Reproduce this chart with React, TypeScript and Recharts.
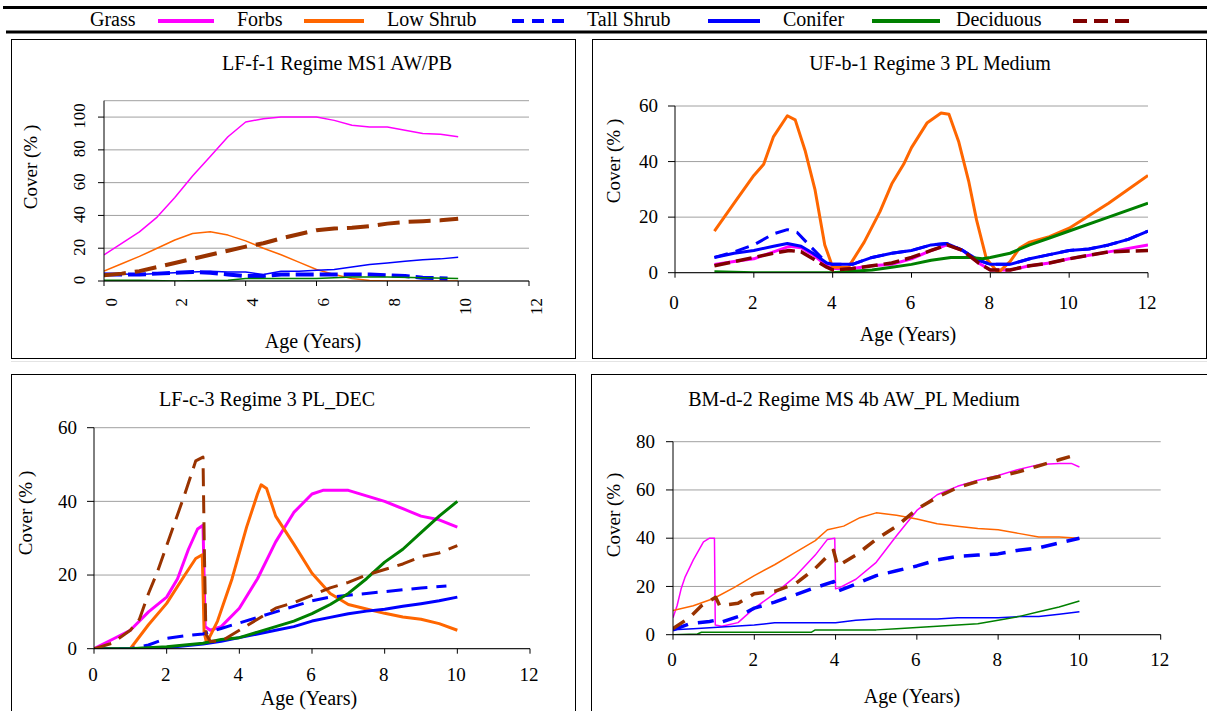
import { CartesianGrid, Line, LineChart, XAxis, YAxis } from "recharts";

type Pt = [number, number];

const FONT = '"Liberation Serif", "Times New Roman", serif';

// series names as they appear in the legend strip (label, then swatch)
const seriesNames = ["Grass", "Forbs", "Low Shrub", "Tall Shrub", "Conifer", "Deciduous"];
const xTicks = [0, 2, 4, 6, 8, 10, 12];

// LF-f-1 Regime MS1 AW/PB
const lffGrass: Pt[] = [[0, 16], [0.5, 23], [1, 30], [1.5, 39], [2, 51], [2.5, 64], [3, 76], [3.5, 88], [4, 97], [4.5, 99], [5, 100], [6, 100], [6.5, 98], [7, 95], [7.5, 94], [8, 94], [8.5, 92], [9, 90], [9.5, 89.5], [10, 88]];
const lffForbs: Pt[] = [[0, 6], [0.5, 10.5], [1, 15], [1.5, 20], [2, 25], [2.5, 29], [3, 30], [3.5, 28], [4, 24.5], [4.5, 20], [5, 16], [5.5, 11.5], [6, 7], [6.5, 4], [7, 1.5], [7.5, 0.3], [8, 0], [9, 0], [10, 0]];
const lffLowShrub: Pt[] = [[0, 4], [0.5, 4], [1, 4], [1.5, 4.5], [2, 5], [2.5, 5.5], [3, 5], [3.5, 4], [4, 3], [4.5, 3], [5, 4], [6, 4], [7, 4], [7.5, 4], [8, 3.5], [8.5, 3], [9, 2], [9.7, 1.5]];
const lffTallShrub: Pt[] = [[0, 4.5], [0.5, 4.3], [1, 4], [1.5, 4.5], [2, 5], [2.5, 5.5], [3, 6], [3.5, 5.5], [4, 5.5], [4.5, 4], [5, 6], [5.5, 6], [6, 6.5], [6.5, 7], [7, 8.5], [7.5, 10], [8, 11], [8.5, 12], [9, 13], [9.5, 13.5], [10, 14.5]];
const lffConifer: Pt[] = [[0, 0.5], [1, 0.5], [2, 0], [3, 0.3], [3.5, 0.5], [4, 1.5], [5, 1.5], [6, 1.5], [6.5, 2], [7, 2.5], [8, 2.5], [9, 2], [10, 1.5]];
const lffDeciduous: Pt[] = [[0, 3.5], [0.5, 4.5], [1, 6], [1.5, 8.5], [2, 11], [2.5, 13.5], [3, 16], [3.5, 18.5], [4, 21], [4.5, 23], [5, 26], [5.5, 28.5], [6, 31], [6.5, 32], [7, 32.5], [7.5, 33.5], [8, 35], [8.5, 36], [9, 36.5], [9.5, 37], [10, 38]];

// UF-b-1 Regime 3 PL Medium
const ufGrass: Pt[] = [[1, 3], [1.5, 4], [2, 5], [2.5, 7.5], [2.9, 9.5], [3.2, 9], [3.5, 6.5], [3.85, 2.5], [4, 1.5], [4.5, 1.5], [5, 2.5], [5.5, 3], [6, 5], [6.5, 8], [6.9, 10], [7.3, 8], [7.7, 3.5], [8, 1], [8.5, 1], [9, 2.5], [9.5, 3.5], [10, 5], [11, 7.5], [12, 10]];
const ufForbs: Pt[] = [[1, 15], [1.5, 25], [2, 35], [2.25, 39], [2.5, 49], [2.85, 56.5], [3.05, 55], [3.3, 44], [3.55, 30], [3.8, 10], [4, 2], [4.4, 2], [4.8, 11], [5.2, 22], [5.5, 32], [5.8, 39], [6, 45], [6.4, 54], [6.75, 57.5], [6.95, 57], [7.2, 47], [7.45, 33], [7.65, 19], [7.9, 5], [8.2, 0], [8.5, 4], [8.75, 9], [9, 11], [9.5, 13], [10, 16], [11, 25], [12, 35]];
const ufLowShrub: Pt[] = [[1, 5.5], [1.5, 7.5], [2, 10], [2.5, 14], [2.85, 15.5], [3.1, 14.5], [3.4, 10], [3.85, 3.5], [4, 3], [4.5, 3], [5, 5.5], [5.5, 7], [6, 8], [6.5, 10], [6.9, 10.5], [7.3, 8], [7.7, 4.5], [8, 3], [8.5, 3], [9, 5], [9.5, 6.5], [10, 8], [10.5, 8.5], [11, 10], [11.5, 12], [12, 15]];
const ufTallShrub: Pt[] = [[1, 5.5], [1.5, 7], [2, 8], [2.5, 9.5], [2.85, 10.5], [3.2, 9.5], [3.5, 7], [3.85, 3.5], [4, 3], [4.5, 3], [5, 5.5], [5.5, 7], [6, 8], [6.5, 10], [6.9, 10.5], [7.3, 8], [7.7, 4.5], [8, 3], [8.5, 3], [9, 5], [9.5, 6.5], [10, 8], [10.5, 8.5], [11, 10], [11.5, 12], [12, 15]];
const ufConifer: Pt[] = [[1, 0.3], [2, 0], [3, 0], [4, 0], [4.5, 0.5], [5, 1], [5.5, 2], [6, 3], [6.5, 4.5], [7, 5.5], [7.5, 5.5], [7.8, 5], [8, 5.5], [8.5, 7], [9, 10], [9.5, 12.5], [10, 15], [11, 20], [12, 25]];
const ufDeciduous: Pt[] = [[1, 2.5], [1.5, 4], [2, 5.5], [2.5, 7], [2.9, 8], [3.2, 7.5], [3.5, 5], [3.85, 2], [4, 1], [4.5, 1.5], [5, 2.5], [5.5, 3.5], [6, 5.5], [6.5, 8], [6.9, 10], [7.3, 8], [7.7, 3.5], [8, 1], [8.5, 1], [9, 2.5], [9.5, 3.5], [10, 5], [11, 7.5], [12, 8]];

// LF-c-3 Regime 3 PL_DEC
const lfcGrass: Pt[] = [[0, 0], [0.5, 2.5], [1, 5], [1.5, 10], [2, 14], [2.3, 19], [2.6, 27], [2.85, 32.5], [3, 33.5], [3.03, 20], [3.06, 6], [3.2, 5], [3.5, 6], [4, 11], [4.5, 19], [5, 29], [5.5, 37], [6, 42], [6.3, 43], [7, 43], [7.5, 41.5], [8, 40], [8.5, 38], [9, 36], [9.5, 35], [10, 33]];
const lfcForbs: Pt[] = [[0, 0], [0.5, 0], [1, 0], [1.5, 6.5], [2, 12.3], [2.5, 20], [2.8, 24.5], [2.98, 25.5], [3.03, 4.5], [3.1, 1.5], [3.4, 7.5], [3.8, 19], [4.2, 33], [4.5, 42], [4.6, 44.5], [4.75, 43.5], [5, 36], [5.5, 28.4], [6, 20.5], [6.5, 15], [7, 12], [7.5, 10.8], [8, 9.6], [8.5, 8.6], [9, 8], [9.5, 6.8], [10, 5]];
const lfcLowShrub: Pt[] = [[0, 0], [1, 0], [1.5, 1], [2, 2.8], [2.5, 3.5], [3, 4], [3.5, 5.5], [4, 7], [4.5, 8.5], [5, 10], [5.5, 11.5], [6, 13], [6.5, 14], [7, 14.5], [7.5, 15], [8, 15.5], [8.5, 16], [9, 16.5], [9.7, 17]];
const lfcTallShrub: Pt[] = [[0, 0], [1, 0], [2, 0.3], [3, 1.3], [3.5, 2], [4, 3], [4.5, 4], [5, 5], [5.5, 6], [6, 7.5], [6.5, 8.5], [7, 9.5], [7.5, 10.2], [8, 10.7], [8.5, 11.5], [9, 12.2], [9.5, 13], [10, 14]];
const lfcConifer: Pt[] = [[0, 0], [1, 0], [2, 0.5], [2.5, 1], [3, 1.5], [3.5, 2.5], [4, 3], [4.5, 4.5], [5, 6], [5.5, 7.5], [6, 9.5], [6.5, 12], [7, 15], [7.5, 19], [8, 23.5], [8.5, 27], [9, 31.5], [9.5, 36], [10, 40]];
const lfcDeciduous: Pt[] = [[0, 0], [0.5, 1.5], [1, 5], [1.25, 8], [1.5, 15], [1.75, 21], [2, 28], [2.25, 35], [2.5, 42], [2.8, 51], [3, 52], [3.04, 25], [3.08, 4], [3.2, 2], [3.5, 2], [4, 5], [4.5, 8], [5, 11], [5.5, 12.5], [6, 14.5], [6.5, 16.5], [7, 18], [7.5, 20], [8, 21.5], [8.5, 23], [9, 25], [9.5, 26], [10, 28]];

// BM-d-2 Regime MS 4b AW_PL Medium
const bmGrass: Pt[] = [[0, 7], [0.1, 12], [0.2, 19], [0.3, 24], [0.5, 31], [0.75, 38.5], [0.9, 40], [1.02, 40], [1.04, 4], [1.2, 3.5], [1.6, 5], [2, 11], [2.5, 17], [3, 24], [3.5, 33], [3.8, 39.5], [3.98, 40], [4, 19], [4.1, 19.5], [4.5, 23], [5, 30], [5.5, 41], [6, 51.5], [6.5, 58], [7, 61.5], [7.5, 64], [8, 66], [8.5, 68.5], [9, 70.5], [9.5, 71], [9.8, 71], [10, 69.5]];
const bmForbs: Pt[] = [[0, 10], [0.5, 12], [1, 15], [1.5, 19.5], [2, 24.5], [2.5, 29], [3, 34], [3.5, 39], [3.8, 43.5], [4.2, 45], [4.6, 48.5], [5, 50.5], [5.5, 49.5], [6, 48], [6.5, 46], [7, 45], [7.5, 44], [8, 43.5], [8.5, 42], [9, 40.5], [9.5, 40.5], [10, 40]];
const bmLowShrub: Pt[] = [[0, 2], [0.4, 4.5], [0.9, 5.5], [1.05, 6], [1.15, 5], [1.6, 7.5], [2, 11], [2.5, 13.5], [3, 16.5], [3.5, 19.5], [3.95, 22], [4.05, 18], [4.5, 21], [5, 24.5], [5.5, 26.5], [6, 28.5], [6.5, 31], [7, 32.5], [7.5, 33], [8, 33.5], [8.5, 35], [9, 36], [9.5, 38], [10, 40]];
const bmTallShrub: Pt[] = [[0, 2], [0.5, 2.5], [1, 3], [1.5, 3.5], [2, 4], [2.5, 5], [3, 5], [3.5, 5], [4, 5], [4.5, 6], [5, 6.5], [5.5, 6.5], [6, 6.5], [6.5, 6.5], [7, 7], [7.5, 7], [8, 7], [8.5, 7.5], [9, 7.5], [9.5, 8.5], [10, 9.5]];
const bmConifer: Pt[] = [[0, 0], [0.6, 0.3], [0.7, 1], [1, 1], [2, 1], [3, 1], [3.4, 1], [3.5, 2], [4, 2], [5, 2], [5.5, 2.5], [6, 3], [6.5, 3.5], [7, 4], [7.5, 4.5], [8, 6], [8.5, 7.5], [9, 9.5], [9.5, 11.5], [10, 14]];
const bmDeciduous: Pt[] = [[0, 2.5], [0.4, 7], [0.7, 12], [1, 15], [1.05, 15.5], [1.15, 12], [1.6, 13], [2, 17], [2.5, 18], [3, 21], [3.5, 27.5], [3.95, 35], [4.05, 28.5], [4.5, 33], [5, 39.5], [5.5, 45], [6, 52], [6.5, 57], [7, 61], [7.5, 63.5], [8, 65.5], [8.5, 67.5], [9, 70], [9.5, 72.5], [10, 75]];

const MAGENTA = "#ff00ff";
const ORANGE = "#ff6600";
const BLUE = "#0000ff";
const GREEN = "#008000";
const BROWN = "#993300";
const MAROON = "#800000";

type Series = { name: string; pts: Pt[]; color: string; width: number; dash?: string };

type Panel = {
  title: string;
  box: { x: number; y: number; w: number; h: number };
  plot: { l: number; r: number; t: number; b: number };
  yMax: number;
  yTicks: number[];
  series: Series[];
  titleX: number;
  titleBase: number;
  xTitleX: number;
  xTitleBase: number;
  yTitle: { x: number; y: number };
  rotated?: boolean;
  yLabelGap: number;
  xLabelMid: number;
};

function mk(pts: Pt[][], colors: string[], widths: number[], dashes: (string | undefined)[]): Series[] {
  return seriesNames.map((name, i) => ({ name, pts: pts[i], color: colors[i], width: widths[i], dash: dashes[i] }));
}

const panels: Panel[] = [
  {
    title: "LF-f-1 Regime MS1 AW/PB",
    box: { x: 11, y: 39, w: 565, h: 320 },
    plot: { l: 104, r: 529, t: 100.7, b: 281 },
    yMax: 110,
    yTicks: [0, 20, 40, 60, 80, 100],
    series: mk(
      [lffGrass, lffForbs, lffLowShrub, lffTallShrub, lffConifer, lffDeciduous],
      [MAGENTA, ORANGE, BLUE, BLUE, GREEN, BROWN],
      [1.5, 1.5, 4, 1.5, 1.5, 4],
      [undefined, undefined, "18 6", undefined, undefined, "22 9"]
    ),
    titleX: 337,
    titleBase: 70,
    xTitleX: 313,
    xTitleBase: 348,
    yTitle: { x: 30, y: 167 },
    rotated: true,
    yLabelGap: 25,
    xLabelMid: 17,
  },
  {
    title: "UF-b-1 Regime 3 PL Medium",
    box: { x: 592, y: 39, w: 615, h: 320 },
    plot: { l: 675, r: 1148, t: 106, b: 272.7 },
    yMax: 60,
    yTicks: [0, 20, 40, 60],
    series: mk(
      [ufGrass, ufForbs, ufLowShrub, ufTallShrub, ufConifer, ufDeciduous],
      [MAGENTA, ORANGE, BLUE, BLUE, GREEN, MAROON],
      [3, 3, 3, 3, 3, 3.5],
      [undefined, undefined, "14 8", undefined, undefined, "16 6"]
    ),
    titleX: 930,
    titleBase: 70,
    xTitleX: 908,
    xTitleBase: 341,
    yTitle: { x: 613, y: 161 },
    yLabelGap: 17,
    xLabelMid: 30,
  },
  {
    title: "LF-c-3 Regime 3 PL_DEC",
    box: { x: 11, y: 374, w: 565, h: 345 },
    plot: { l: 94, r: 530, t: 427.7, b: 648.7 },
    yMax: 60,
    yTicks: [0, 20, 40, 60],
    series: mk(
      [lfcGrass, lfcForbs, lfcLowShrub, lfcTallShrub, lfcConifer, lfcDeciduous],
      [MAGENTA, ORANGE, BLUE, BLUE, GREEN, BROWN],
      [3, 3, 3, 3, 3, 3],
      [undefined, undefined, "16 9", undefined, undefined, "18 9"]
    ),
    titleX: 267,
    titleBase: 406,
    xTitleX: 309,
    xTitleBase: 705,
    yTitle: { x: 25, y: 513 },
    yLabelGap: 17,
    xLabelMid: 26,
  },
  {
    title: "BM-d-2 Regime MS 4b AW_PL Medium",
    box: { x: 591, y: 374, w: 625, h: 345 },
    plot: { l: 673, r: 1160.7, t: 441.7, b: 634.7 },
    yMax: 80,
    yTicks: [0, 20, 40, 60, 80],
    series: mk(
      [bmGrass, bmForbs, bmLowShrub, bmTallShrub, bmConifer, bmDeciduous],
      [MAGENTA, ORANGE, BLUE, BLUE, GREEN, BROWN],
      [1.5, 1.5, 3.5, 1.5, 1.5, 3.5],
      [undefined, undefined, "16 10", undefined, undefined, "14 10"]
    ),
    titleX: 854,
    titleBase: 406,
    xTitleX: 912,
    xTitleBase: 703,
    yTitle: { x: 613, y: 515 },
    yLabelGap: 18,
    xLabelMid: 25,
  },
];

function PageText({ x, base, size, children }: { x: number; base: number; size: number; children: string }) {
  return (
    <div
      style={{
        position: "absolute",
        left: x,
        top: base - size * 0.84,
        transform: "translateX(-50%)",
        whiteSpace: "nowrap",
        fontFamily: FONT,
        fontSize: size,
        lineHeight: 1,
        color: "#000",
      }}
    >
      {children}
    </div>
  );
}

function ChartPanel({ p }: { p: Panel }) {
  const { box, plot } = p;
  const ySize = p.rotated ? 6 : 7;
  const xSize = 5;
  return (
    <>
      <div
        style={{
          position: "absolute",
          left: box.x,
          top: box.y,
          width: box.w,
          height: box.h,
          border: "1px solid #000",
          boxSizing: "border-box",
        }}
      />
      <div style={{ position: "absolute", left: box.x, top: box.y }}>
        <LineChart
          width={box.w}
          height={box.h}
          margin={{ top: plot.t - box.y, right: box.x + box.w - plot.r, bottom: 0, left: 0 }}
        >
          <CartesianGrid vertical={false} stroke="#a0a0a0" />
          <XAxis
            type="number"
            dataKey="x"
            domain={[0, 12]}
            ticks={xTicks}
            allowDataOverflow
            height={box.y + box.h - plot.b}
            axisLine={{ stroke: "#000" }}
            tickLine={{ stroke: "#000" }}
            tickSize={xSize}
            tickMargin={0}
            tick={(t: { x: number; y: number; payload: { value: number } }) =>
              p.rotated ? (
                <text
                  key={t.payload.value}
                  x={t.x + 7}
                  y={t.y + p.xLabelMid - xSize}
                  transform={`rotate(-90 ${t.x + 7} ${t.y + p.xLabelMid - xSize})`}
                  textAnchor="end"
                  dy="0.33em"
                  fontFamily={FONT}
                  fontSize={17}
                  fill="#000"
                >
                  {t.payload.value}
                </text>
              ) : (
                <text
                  key={t.payload.value}
                  x={t.x - 1}
                  y={t.y + p.xLabelMid - xSize}
                  textAnchor="middle"
                  dy="0.33em"
                  fontFamily={FONT}
                  fontSize={19}
                  fill="#000"
                >
                  {t.payload.value}
                </text>
              )
            }
          />
          <YAxis
            type="number"
            domain={[0, p.yMax]}
            ticks={p.yTicks}
            allowDataOverflow
            width={plot.l - box.x}
            axisLine={{ stroke: "#000" }}
            tickLine={{ stroke: "#000" }}
            tickSize={ySize}
            tickMargin={p.yLabelGap - ySize}
            tick={(t: { x: number; y: number; payload: { value: number } }) =>
              p.rotated ? (
                <text
                  key={t.payload.value}
                  x={t.x}
                  y={t.y - 1}
                  transform={`rotate(-90 ${t.x} ${t.y - 1})`}
                  textAnchor="middle"
                  dy="0.33em"
                  fontFamily={FONT}
                  fontSize={17}
                  fill="#000"
                >
                  {t.payload.value}
                </text>
              ) : (
                <text
                  key={t.payload.value}
                  x={t.x}
                  y={t.y}
                  textAnchor="end"
                  dy="0.33em"
                  fontFamily={FONT}
                  fontSize={19}
                  fill="#000"
                >
                  {t.payload.value}
                </text>
              )
            }
          />
          {p.series.map((s) => (
            <Line
              key={s.name}
              name={s.name}
              data={s.pts.map(([x, y]) => ({ x, y }))}
              dataKey="y"
              type="linear"
              stroke={s.color}
              strokeWidth={s.width}
              strokeDasharray={s.dash}
              strokeLinejoin="round"
              dot={false}
              activeDot={false}
              isAnimationActive={false}
            />
          ))}
        </LineChart>
      </div>
      <PageText x={p.titleX} base={p.titleBase} size={20}>
        {p.title}
      </PageText>
      <PageText x={p.xTitleX} base={p.xTitleBase} size={20}>
        Age (Years)
      </PageText>
      <div
        style={{
          position: "absolute",
          left: p.yTitle.x,
          top: p.yTitle.y,
          transform: "translate(-50%, -50%) rotate(-90deg)",
          whiteSpace: "nowrap",
          fontFamily: FONT,
          fontSize: 19,
          lineHeight: 1,
        }}
      >
        Cover (% )
      </div>
    </>
  );
}

const legendText = [90, 237, 387, 587, 783, 956];
const legendSwatch: [number, number][] = [[158, 214], [304, 364], [512, 565], [708, 760], [872, 940], [1073, 1129]];
const legendColor = [MAGENTA, ORANGE, BLUE, BLUE, GREEN, MAROON];
const legendDash = [undefined, undefined, "12 8", undefined, undefined, "14 7"];

function LegendStrip() {
  return (
    <svg width={1207} height={38} style={{ position: "absolute", left: 0, top: 0 }}>
      <line x1={3} x2={1207} y1={7.5} y2={7.5} stroke="#000" strokeWidth={3} />
      <line x1={6} x2={1207} y1={32} y2={32} stroke="#000" strokeWidth={3} />
      {seriesNames.map((name, i) => (
        <g key={name}>
          <text x={legendText[i]} y={26} fontFamily={FONT} fontSize={20} fill="#000">
            {name}
          </text>
          <line
            x1={legendSwatch[i][0]}
            x2={legendSwatch[i][1]}
            y1={21}
            y2={21}
            stroke={legendColor[i]}
            strokeWidth={4}
            strokeDasharray={legendDash[i]}
          />
        </g>
      ))}
    </svg>
  );
}

export default function App() {
  return (
    <div style={{ position: "absolute", left: 0, top: 0, width: 1207, height: 711, overflow: "hidden", background: "#fff" }}>
      <LegendStrip />
      <div style={{ position: "absolute", left: 11, top: 361, width: 1196, height: 1, background: "#e4e4e4" }} />
      {panels.map((p) => (
        <ChartPanel key={p.title} p={p} />
      ))}
    </div>
  );
}
